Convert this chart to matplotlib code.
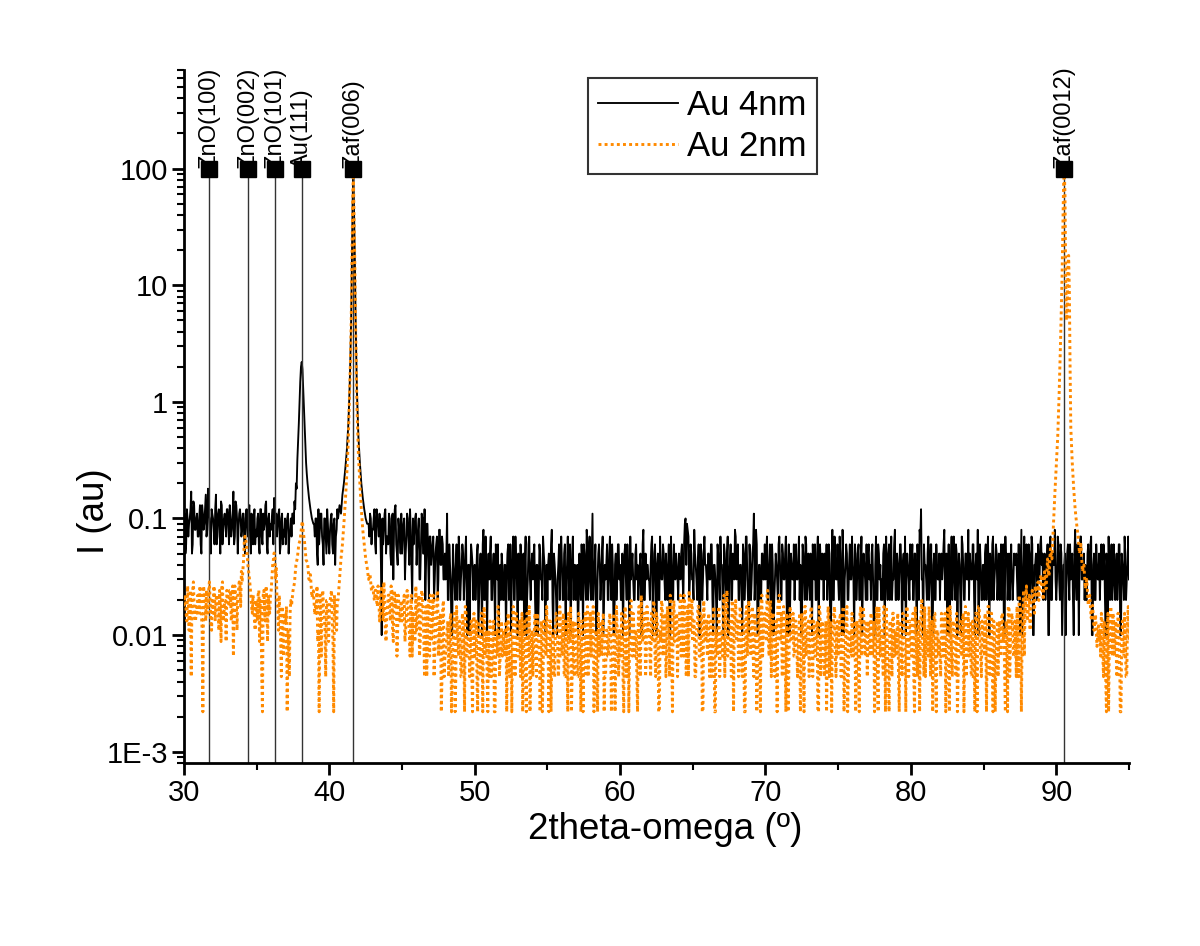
import numpy as np
import matplotlib

matplotlib.use("Agg")
import matplotlib.pyplot as plt  # noqa: E402
from matplotlib.ticker import FixedLocator, FixedFormatter, LogLocator, NullFormatter, MultipleLocator  # noqa: E402

plt.rcParams["font.family"] = ["Liberation Sans", "DejaVu Sans"]

ORANGE = "#ff8a00"

# scan grid: 0.1 deg steps from 30 to 95, plus a second string for the half steps (30.05 ... 94.95)
X_START, X_STEP = 30.0, 0.1

# background counts, one char per step, base-36 (a=10 ... z=35)
# Au 4nm: 1 count = 0.01 ; Au 2nm: 1 count = 0.0022
# chars that fall inside a peak window below are replaced by the peak values
BLACK_COUNTS = (
    "95c7ah6d8b" "7d5b9g8b6c" "a6g7c5d8b7" "c6a8h7d5ba" "8b5c7d59a6"   # 30-34
    "7b5c68d6a7" "8cf97b5a67" "6a5879a8bd" "9a8b9a8b9a" "7a46b74a59"   # 35-39
    "5a6948c9bd" "aaaaaaaaaa" "aaaaaaa9b6" "8c5a7916b5" "7b5a3c6485"   # 40-44
    "5937a4826a" "4836a52947" "4625738463" "3b24163427" "2453714352"   # 45-49
    "4362518243" "3725146324" "2436315273" "5243172634" "3614253742"   # 50-54
    "2538142365" "4263731524" "3152463827" "2b36154372" "3627241536"   # 55-59
    "4215362743" "2643518234" "3472615243" "5234172634" "24536a9735"   # 60-64
    "3842615374" "2536142637" "4152736248" "3624153726" "25b3614253"   # 65-69
    "3726142536" "4253716243" "2637415263" "3514627345" "2463518243"   # 70-74
    "3728145263" "4153627342" "2645317254" "3517264238" "2436157342"   # 75-79
    "3625148c36" "4273615243" "2548316274" "3615274253" "2436158342"   # 80-84
    "4527136245" "3264175326" "2543618273" "3627145236" "4253617248"   # 85-89
    "2736145362" "3518264735" "4263715243" "2635147263" "3426153724"   # 90-94
    "3"
)
BLACK_COUNTS_HALF = (
    "b6a9c5e8a7" "a6d8c7ia5b" "8c6b9e6a9c" "9d7b6ea8c7" "b6a9c7b6c8"   # 30-34
    "a6c7b9e5b9" "a6db9c6b8a" "9b7ab69bc9" "aaaaaaaaa9" "a5c8b6a7c6"   # 35-39
    "8b5a7c6bac" "aaaaaaaaaa" "aaaaaa97a8" "a6c9b4a8c7" "6a4b8d5a7b"   # 40-44
    "7a5b6c4a8b" "6a3b5c4927" "5736284735" "5263142635" "3625241643"   # 45-49
    "2514362715" "5243631452" "4152637241" "3625413725" "5241632514"   # 50-54
    "4362531427" "2514263742" "4236152643" "5241362514" "4253614263"   # 55-59
    "2536241352" "5324162543" "2615342736" "3526142453" "5362948263"   # 60-64
    "2534162543" "5362431524" "2635142537" "5243627314" "3628142536"   # 65-69
    "5243613427" "2635241536" "5342163725" "2463251634" "5326142736"   # 70-74
    "2514362437" "3625241536" "5326142632" "2643527362" "5263421536"   # 75-79
    "4253627314" "3526142635" "4362531427" "2534162538" "5362431624"   # 80-84
    "2643527362" "5326142543" "3452631426" "2536142637" "5324162543"   # 85-89
    "3625241536" "4253617342" "2536142635" "4362513426" "2536142537"   # 90-94
)
ORANGE_COUNTS = (
    "8a6972b867" "9c71a68b95" "7b9a58c694" "a8b73c9ad8" "dkwriea795"   # 30-34
    "8a471b69a7" "bine957256" "6147859bdh" "aaaaaaaaaa" "a7416a8596"   # 35-39
    "7a61859bch" "aaaaaaaaaa" "aaaaaaaaaa" "c9b8a7c694" "8a6b49a578"   # 40-44
    "6947a58364" "5836a47293" "4725a36182" "3526147253" "4261735426"   # 45-49
    "3615274351" "2436158243" "5317246325" "3641527314" "2537416253"   # 50-54
    "4163527436" "3725148236" "5241637425" "3614275361" "2537146352"   # 55-59
    "4726351847" "3518264735" "6249375148" "4736281957" "5839a46278"   # 60-64
    "4625837164" "3742615384" "5928364917" "4637251846" "3825174936"   # 65-69
    "6a48273519" "4736152847" "3625174835" "2746351826" "5318264735"   # 70-74
    "3627148253" "4516273846" "2637415283" "5248316274" "3715264836"   # 75-79
    "4628351742" "2536417253" "3746152836" "5214637425" "3625174836"   # 80-84
    "4718253614" "2637514826" "5348271639" "6859a7bc9d" "aaaaaaaaaa"   # 85-89
    "aaaaaaaaaa" "aaaaaaaaaa" "aaaaaaaaaa" "5736241547" "3625143726"   # 90-94
    "4"
)
ORANGE_COUNTS_HALF = (
    "a7c5b9d68a" "7a5c9b7d69" "c6a8b4d79b" "9b6c8a5bcg" "gtumgc8a69"   # 30-34
    "6b92a7c48a" "ekmh8a4837" "8529a6cfkp" "aaaaaaaaaa" "8c5a3b7294"   # 35-39
    "9b4a69aaaa" "aaaaaaaaaa" "aaaaaaaaaa" "ab9c6a8d57" "a7c5b83a69"   # 40-44
    "8a5b63a74c" "6a4b72859a" "5a36b47293" "4637251846" "2748352617"   # 45-49
    "5263718425" "6241537364" "3642518273" "5273614825" "4726351648"   # 50-54
    "3614257283" "5263741625" "2736152847" "4825136472" "5364271835"   # 55-59
    "3518264935" "5263a47286" "3748261593" "6285a37462" "4a73628b59"   # 60-64
    "6258371946" "5263814725" "3a7b462859" "5283617394" "6374281a57"   # 65-69
    "4b3957268a" "5283716453" "6437251846" "4825361735" "2637415826"   # 70-74
    "5748261537" "3625184736" "5473628154" "3815264735" "5263741826"   # 75-79
    "3715264938" "5482637154" "2637481526" "4725361847" "5263718425"   # 80-84
    "3648271536" "5374261847" "3625a84b7c" "7a9b8cadcf" "aaaaaaaaaa"   # 85-89
    "aaaaaaaaaa" "aaaaaaaaaa" "aaaaaaaaa4" "3625174836" "5274163528"   # 90-94
)
BLACK_UNIT, ORANGE_UNIT = 0.01, 0.0022

# peaks, read point by point
BLACK_AU_X = [37.5, 37.55, 37.6, 37.65, 37.7, 37.75, 37.8, 37.85, 37.9, 37.95, 38.0, 38.05, 38.1,
              38.15, 38.2, 38.25, 38.3, 38.35, 38.4, 38.45, 38.5, 38.6, 38.7, 38.8, 38.9]
BLACK_AU_Y = [0.11, 0.09, 0.14, 0.12, 0.2, 0.18, 0.32, 0.45, 0.65, 1.0, 1.5, 2.0, 2.2,
              1.9, 1.3, 0.9, 0.6, 0.42, 0.3, 0.24, 0.2, 0.15, 0.12, 0.1, 0.09]
BLACK_ZAF_X = [40.6, 40.7, 40.8, 40.9, 41.0, 41.1, 41.2, 41.3, 41.35, 41.4, 41.45, 41.5, 41.55, 41.6,
               41.65, 41.7, 41.75, 41.8, 41.85, 41.9, 41.95, 42.0, 42.1, 42.2, 42.3, 42.4, 42.5, 42.6]
BLACK_ZAF_Y = [0.1, 0.13, 0.11, 0.16, 0.2, 0.27, 0.38, 0.62, 0.9, 1.4, 2.5, 5, 15, 50,
               100, 45, 18, 6, 2.5, 1.2, 0.75, 0.5, 0.3, 0.2, 0.15, 0.12, 0.1, 0.09]
ORANGE_AU_X = [37.4, 37.5, 37.6, 37.7, 37.8, 37.9, 38.0, 38.1, 38.15, 38.2, 38.3, 38.4, 38.5, 38.6,
               38.7, 38.8, 38.9, 39.0]
ORANGE_AU_Y = [0.018, 0.024, 0.028, 0.04, 0.046, 0.06, 0.066, 0.088, 0.095, 0.078, 0.062, 0.044, 0.042,
               0.03, 0.033, 0.021, 0.024, 0.015]
ORANGE_ZAF_X = [40.6, 40.7, 40.8, 40.9, 41.0, 41.1, 41.2, 41.3, 41.35, 41.4, 41.45, 41.5, 41.55, 41.6,
                41.65, 41.7, 41.75, 41.8, 41.85, 41.9, 41.95, 42.0, 42.1, 42.2, 42.3, 42.4, 42.5, 42.6,
                42.7, 42.8, 42.9, 43.0]
ORANGE_ZAF_Y = [0.02, 0.03, 0.045, 0.06, 0.09, 0.14, 0.24, 0.45, 0.75, 1.2, 2.2, 4.5, 14, 48,
                95, 40, 16, 5, 2, 0.9, 0.55, 0.35, 0.2, 0.12, 0.08, 0.06, 0.045, 0.038,
                0.03, 0.033, 0.024, 0.026]
ORANGE_SAPH_X = [89.0, 89.1, 89.2, 89.3, 89.4, 89.5, 89.6, 89.7, 89.8, 89.9, 90.0, 90.1, 90.2, 90.3,
                 90.4, 90.45, 90.5, 90.55, 90.6, 90.65, 90.7, 90.75, 90.8, 90.85, 90.9, 90.95, 91.0,
                 91.1, 91.2, 91.3, 91.4, 91.5, 91.6, 91.7, 91.8, 91.9, 92.0, 92.1, 92.2, 92.3, 92.4,
                 92.5, 92.6, 92.7, 92.8, 92.9]
ORANGE_SAPH_Y = [0.028, 0.02, 0.035, 0.025, 0.045, 0.032, 0.055, 0.045, 0.085, 0.16, 0.28, 0.5, 1.2, 3.5,
                 12, 30, 70, 100, 60, 12, 5, 6, 14, 18, 9, 2, 0.6,
                 0.3, 0.18, 0.12, 0.09, 0.07, 0.05, 0.06, 0.035, 0.04, 0.025, 0.03, 0.018, 0.022, 0.014,
                 0.018, 0.011, 0.015, 0.008, 0.012]

# reflection markers
REF_POS = [31.72, 34.40, 36.25, 38.10, 41.62, 90.55]
REF_LABELS = ["ZnO(100)", "ZnO(002)", "ZnO(101)", "Au(111)", "Zaf(006)", "Zaf(0012)"]


def decode(counts, start):
    x = np.round(start + X_STEP * np.arange(len(counts)), 2)
    return x, np.array([int(c, 36) for c in counts], dtype=float)


def series(counts, half, unit, peaks):
    x1, c1 = decode(counts, X_START)
    x2, c2 = decode(half, X_START + X_STEP / 2)
    x = np.concatenate([x1, x2])
    y = np.concatenate([c1, c2]) * unit
    for px, py in peaks:
        keep = (x < px[0]) | (x > px[-1])
        x = np.concatenate([x[keep], px])
        y = np.concatenate([y[keep], py])
    order = np.argsort(x)
    return x[order], y[order]


xb, yb = series(BLACK_COUNTS, BLACK_COUNTS_HALF, BLACK_UNIT,
                [(BLACK_AU_X, BLACK_AU_Y), (BLACK_ZAF_X, BLACK_ZAF_Y)])
xo, yo = series(ORANGE_COUNTS, ORANGE_COUNTS_HALF, ORANGE_UNIT,
                [(ORANGE_AU_X, ORANGE_AU_Y), (ORANGE_ZAF_X, ORANGE_ZAF_Y), (ORANGE_SAPH_X, ORANGE_SAPH_Y)])

fig = plt.figure(figsize=(12, 9.46), dpi=100)
ax = fig.add_axes([0.1533, 0.1934, 0.7875, 0.7326])
YMIN, YMAX = 8e-4, 700

ax.plot(xb, yb, color="black", lw=1.35, label="Au 4nm", zorder=2)
ax.vlines(REF_POS, YMIN, 100, color="#333333", lw=1, zorder=2.5)
ax.plot(xo, yo, color=ORANGE, lw=2.1, ls=(0, (1.0, 1.1)), label="Au 2nm", zorder=3)
for pos, lab in zip(REF_POS, REF_LABELS):
    ax.text(pos, 100, lab, rotation=90, ha="center", va="bottom", fontsize=17, zorder=4)
ax.plot(REF_POS, [100] * len(REF_POS), "s", color="black", ms=11, zorder=5)

ax.set_yscale("log")
ax.set_xlim(30, 95)
ax.set_ylim(YMIN, YMAX)
ax.xaxis.set_major_locator(MultipleLocator(10))
ax.xaxis.set_minor_locator(MultipleLocator(5))
ax.yaxis.set_major_locator(FixedLocator([1e-3, 1e-2, 1e-1, 1, 10, 100]))
ax.yaxis.set_major_formatter(FixedFormatter(["1E-3", "0.01", "0.1", "1", "10", "100"]))
ax.yaxis.set_minor_locator(LogLocator(base=10, subs=np.arange(2, 10), numticks=20))
ax.yaxis.set_minor_formatter(NullFormatter())

for side in ("top", "right"):
    ax.spines[side].set_visible(False)
for side in ("left", "bottom"):
    ax.spines[side].set_linewidth(2)
ax.tick_params(which="major", direction="out", length=8.6, width=2, labelsize=21, pad=3)
ax.tick_params(which="minor", direction="out", length=5, width=1.5)

ax.set_xlabel("2theta-omega (º)", fontsize=26.5)
ax.set_ylabel("I (au)", fontsize=26.5)
ax.xaxis.set_label_coords(0.509, -0.07)
ax.yaxis.set_label_coords(-0.076, 0.364)

leg = ax.legend(loc="upper left", bbox_to_anchor=(0.4275, 0.988), borderaxespad=0, fontsize=25,
                frameon=True, fancybox=False, handlelength=2.3, handletextpad=0.25,
                labelspacing=0.25, borderpad=0.3)
leg.get_frame().set_edgecolor("black")
leg.get_frame().set_linewidth(1.5)

fig.savefig("out.png", dpi=100, facecolor="white")
